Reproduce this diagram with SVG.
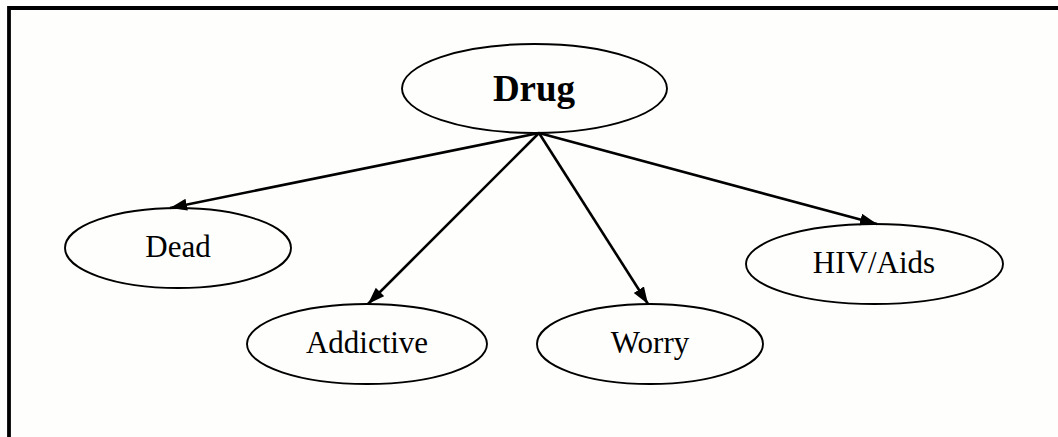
<svg xmlns="http://www.w3.org/2000/svg" width="1058" height="437" viewBox="0 0 1058 437">
<style>
.node ellipse{fill:none;stroke:#000;stroke-width:1.9}
.lbl{font-family:"Liberation Serif","Times New Roman",serif;font-size:31px;fill:#000;text-anchor:middle}
.bold{font-weight:bold;font-size:37px}
.edge{stroke:#000;stroke-width:2.6;fill:none;marker-end:url(#arr)}
</style>
<defs>
<marker id="arr" markerUnits="userSpaceOnUse" markerWidth="20" markerHeight="14" refX="17" refY="6" orient="auto">
<path d="M0,0 L17,6 L0,12 Z" fill="#000"/>
</marker>
</defs>
<rect width="1058" height="437" fill="#fefefc"/>
<path d="M9,437 V8 H1058" fill="none" stroke="#000" stroke-width="3.8"/>
<g id="connectors">
<line class="edge" x1="539" y1="133" x2="170" y2="208"/>
<line class="edge" x1="539" y1="133" x2="368" y2="304"/>
<line class="edge" x1="539" y1="133" x2="648" y2="304"/>
<line class="edge" x1="539" y1="133" x2="877" y2="224"/>
</g>
<g id="drug" class="node">
<ellipse cx="534.5" cy="88.5" rx="132.5" ry="44.5"/>
<text class="lbl bold" x="534" y="101">Drug</text>
</g>
<g id="dead" class="node">
<ellipse cx="178" cy="248" rx="113" ry="40"/>
<text class="lbl" x="178" y="257">Dead</text>
</g>
<g id="addictive" class="node">
<ellipse cx="367" cy="344" rx="120" ry="40"/>
<text class="lbl" x="367" y="353">Addictive</text>
</g>
<g id="worry" class="node">
<ellipse cx="650" cy="344" rx="113" ry="40"/>
<text class="lbl" x="650" y="353">Worry</text>
</g>
<g id="hiv" class="node">
<ellipse cx="874.5" cy="264" rx="128.5" ry="40"/>
<text class="lbl" x="874" y="273">HIV/Aids</text>
</g>
</svg>
